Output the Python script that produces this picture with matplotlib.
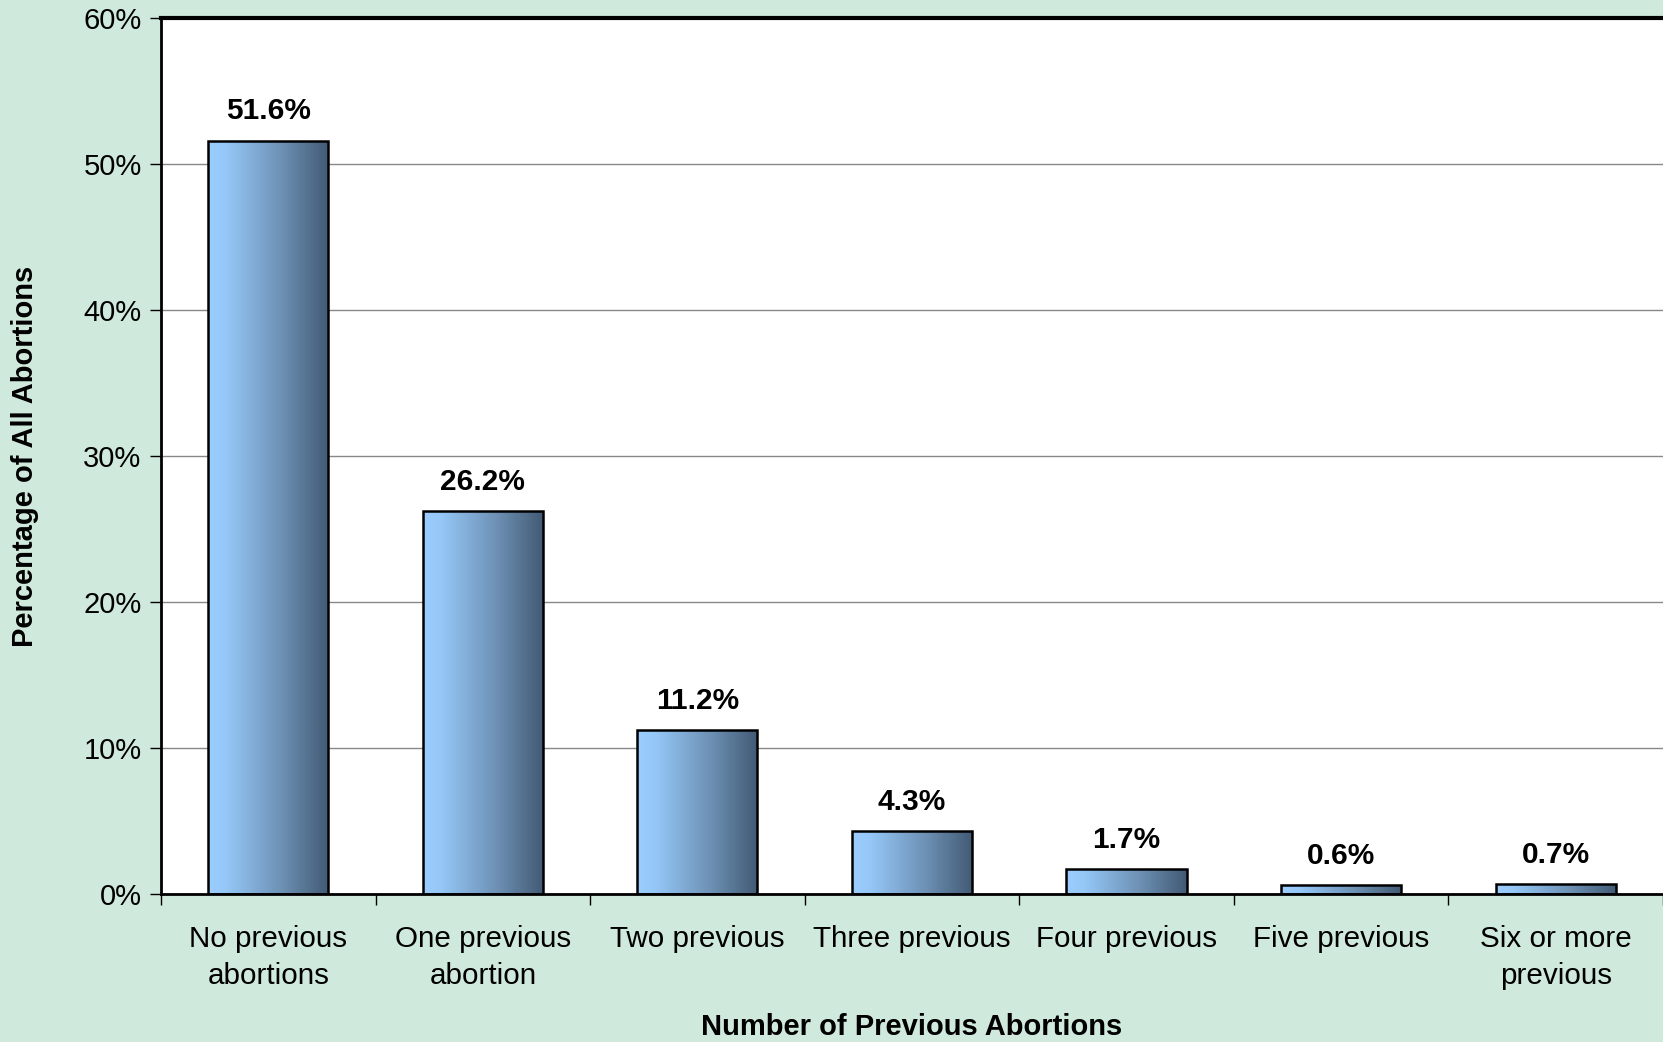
import numpy as np
import matplotlib
matplotlib.use('Agg')
import matplotlib.pyplot as plt
from matplotlib.colors import LinearSegmentedColormap
from matplotlib.ticker import FuncFormatter, FixedLocator

plt.rcParams['font.family'] = ['Liberation Sans', 'DejaVu Sans']

categories = ['No previous\nabortions', 'One previous\nabortion', 'Two previous',
              'Three previous', 'Four previous', 'Five previous', 'Six or more\nprevious']
values = [51.6, 26.2, 11.2, 4.3, 1.7, 0.6, 0.7]
labels = ['51.6%', '26.2%', '11.2%', '4.3%', '1.7%', '0.6%', '0.7%']

bg = '#CFEADC'
fig = plt.figure(figsize=(16.63, 10.42), dpi=100, facecolor=bg)
ax = fig.add_axes([0.0968, 0.142, 0.9032, 0.8408])
ax.set_facecolor('white')

x = np.arange(len(values))
bars = ax.bar(x, values, width=0.56, color='none', edgecolor='black', linewidth=1.8, zorder=3)

# horizontal gradient inside each bar
cmap = LinearSegmentedColormap.from_list('bar', [(0, '#9BCEFF'), (0.15, '#95C7F7'),
                                                 (0.6, '#6E92B6'), (1, '#425A74')])
grad = np.linspace(0, 1, 256).reshape(1, -1)
for b in bars:
    bx, by = b.get_x(), b.get_y()
    w, h = b.get_width(), b.get_height()
    im = ax.imshow(grad, cmap=cmap, aspect='auto', extent=[bx, bx + w, by, by + h],
                   zorder=2, interpolation='bicubic')
    im.set_clip_path(b)

for xi, v, lab in zip(x, values, labels):
    ax.annotate(lab, (xi, v), xytext=(0, 11), textcoords='offset points',
                ha='center', va='bottom', fontsize=21.5, fontweight='bold')

ax.set_xlim(-0.5, 6.5)
ax.set_ylim(0, 60)
ax.set_yticks(np.arange(0, 61, 10))
ax.yaxis.set_major_formatter(FuncFormatter(lambda v, p: '%d%%' % v))
ax.grid(axis='y', color='#888888', linewidth=1.0, zorder=1)

ax.set_xticks(x)
ax.set_xticklabels(categories, fontsize=21.3, linespacing=1.45)
ax.tick_params(axis='x', which='major', length=0, pad=22)
ax.xaxis.set_minor_locator(FixedLocator(np.arange(-0.5, 7, 1)))
ax.tick_params(axis='x', which='minor', length=8, width=1, color='black')
ax.tick_params(axis='y', labelsize=21, length=8, width=1, pad=6)

ax.spines['right'].set_visible(False)
ax.spines['top'].set_linewidth(3)
ax.spines['left'].set_linewidth(2)
ax.spines['bottom'].set_linewidth(2)

ax.set_xlabel('Number of Previous Abortions', fontsize=21, fontweight='bold')
ax.set_ylabel('Percentage of All Abortions', fontsize=21, fontweight='bold')
ax.xaxis.label.set_va('center')
ax.yaxis.label.set_va('center')
ax.xaxis.set_label_coords(0.5, -0.152)
ax.yaxis.set_label_coords(-0.0902, 0.5)

fig.savefig('out.png', dpi=100, facecolor=bg)
